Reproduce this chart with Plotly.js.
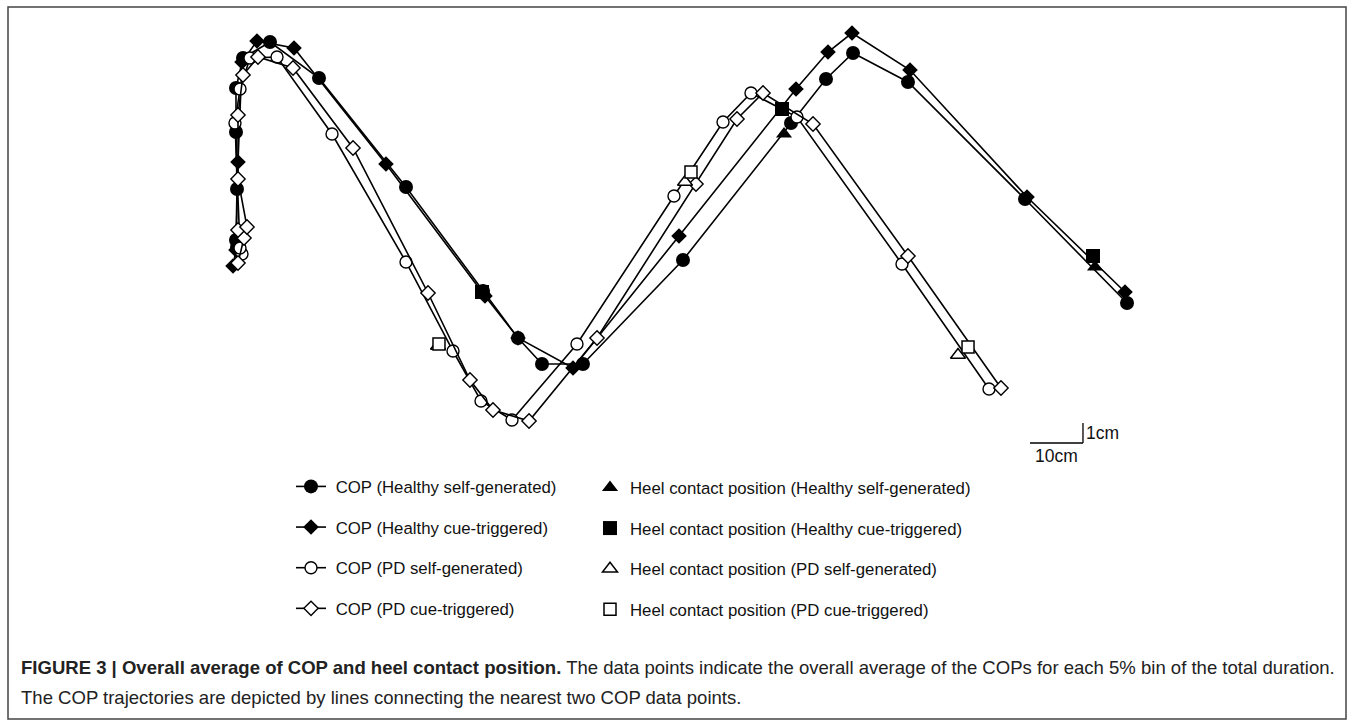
<!DOCTYPE html>
<html>
<head>
<meta charset="utf-8">
<script src="https://cdn.plot.ly/plotly-3.0.1.min.js"></script>
<style>
  html, body { margin: 0; padding: 0; background: #ffffff; }
  #chart { width: 1354px; height: 726px; }
</style>
</head>
<body>
<div id="chart"></div>
<script>
// COP trajectories (x: cm along walkway, y: cm lateral), one point per 5% bin
var hsX = [1.32, 1.13, 1.32, 1.13, 1.13, 2.45, 7.55, 16.79, 33.21, 47.74, 54.34, 58.87, 66.60, 85.47, 105.85, 112.45, 117.55, 127.92, 150.00, 169.25];
var hsY = [1.15, 1.50, 4.05, 6.90, 9.10, 10.60, 11.40, 9.60, 4.15, -1.05, -3.40, -4.70, -4.70, 0.50, 7.35, 9.55, 10.85, 9.40, 3.55, -1.65];

var hcX = [0.57, 1.13, 1.51, 2.26, 5.09, 12.08, 29.43, 48.11, 54.34, 64.72, 84.72, 106.79, 112.83, 117.36, 128.30, 150.38, 168.87];
var hcY = [0.20, 1.00, 5.40, 10.40, 11.45, 11.10, 5.30, -1.30, -3.40, -4.90, 1.70, 9.05, 10.90, 11.85, 10.00, 3.65, -1.10];

var psX = [2.26, 1.89, 0.94, 1.89, 3.77, 8.87, 19.25, 33.21, 42.08, 47.36, 53.21, 65.47, 83.77, 93.02, 98.30, 106.98, 126.79, 143.21];
var psY = [0.80, 1.10, 7.35, 9.05, 10.60, 10.65, 6.80, 0.40, -4.05, -6.55, -7.50, -3.70, 3.70, 7.40, 8.85, 7.65, 0.30, -5.95];

var pcX = [1.51, 2.64, 1.51, 3.21, 1.51, 1.51, 2.45, 5.28, 11.89, 23.21, 37.36, 45.28, 49.62, 56.42, 69.25, 87.92, 95.66, 100.57, 110.00, 127.92, 145.47];
var pcY = [0.35, 1.60, 2.00, 2.15, 4.55, 7.75, 9.75, 10.65, 10.10, 6.10, -1.15, -5.50, -7.00, -7.55, -3.40, 4.30, 7.55, 8.85, 7.30, 0.70, -5.90];

// Heel contact positions
var heelHsX = [47.74, 104.53, 163.21];
var heelHsY = [-1.05, 6.80, 0.15];
var heelHcX = [47.55, 104.15, 162.83];
var heelHcY = [-1.10, 8.05, 0.70];
var heelPsX = [39.25, 85.85, 137.36];
var heelPsY = [-3.80, 4.40, -4.25];
var heelPcX = [39.43, 86.98, 139.25];
var heelPcY = [-3.70, 4.90, -3.85];

// Scale bar (cm)
var scaleX0 = 150.94, scaleY0 = -8.65, scaleLenX = 10, scaleLenY = 1;

var copNames = ["COP (Healthy self-generated)", "COP (Healthy cue-triggered)", "COP (PD self-generated)", "COP (PD cue-triggered)"];
var heelNames = ["Heel contact position (Healthy self-generated)", "Heel contact position (Healthy cue-triggered)", "Heel contact position (PD self-generated)", "Heel contact position (PD cue-triggered)"];

var ink = "#000000";
var font = "Liberation Sans, Arial, sans-serif";
var pad = "\u00a0";

function cop(x, y, name, sym, size, filled, grp) {
  return {
    type: "scatter", mode: "lines+markers", x: x, y: y, name: pad + name,
    legend: "legend", legendgroup: grp,
    line: {color: ink, width: 1.6},
    marker: {symbol: sym, size: size, color: filled ? ink : "#ffffff", line: {color: ink, width: filled ? 0 : 1.4}},
    hoverinfo: "skip"
  };
}
function heel(x, y, name, sym, size, filled, grp) {
  return {
    type: "scatter", mode: "markers", x: x, y: y, name: name,
    legend: "legend2", legendgroup: grp,
    marker: {symbol: sym, size: size, color: filled ? ink : "#ffffff", line: {color: ink, width: filled ? 0 : 1.5}},
    hoverinfo: "skip"
  };
}

var traces = [
  cop(hsX, hsY, copNames[0], "circle", 14, true, "a"),
  cop(hcX, hcY, copNames[1], "diamond", 12, true, "b"),
  cop(psX, psY, copNames[2], "circle", 12, false, "c"),
  cop(pcX, pcY, copNames[3], "diamond", 11, false, "d"),
  heel(heelHsX, heelHsY, heelNames[0], "triangle-up", 14, true, "e"),
  heel(heelHcX, heelHcY, heelNames[1], "square", 14, true, "f"),
  heel(heelPsX, heelPsY, heelNames[2], "triangle-up", 13, false, "g"),
  heel(heelPcX, heelPcY, heelNames[3], "square", 12, false, "h")
];

var legendFont = {family: font, size: 16.8, color: "#111111"};

var layout = {
  width: 1354, height: 726, autosize: false,
  margin: {l: 0, r: 0, t: 0, b: 0},
  paper_bgcolor: "#ffffff", plot_bgcolor: "#ffffff",
  font: {family: font, color: "#111111", size: 14},
  showlegend: true,
  xaxis: {range: [-43.396, 212.075], visible: false, fixedrange: true},
  yaxis: {range: [-22.8, 13.5], visible: false, fixedrange: true},
  legend: {
    x: 291 / 1354, y: 1 - 469 / 726, xanchor: "left", yanchor: "top",
    bgcolor: "rgba(0,0,0,0)", borderwidth: 0, tracegroupgap: 15.8,
    font: legendFont, itemclick: false, itemdoubleclick: false
  },
  legend2: {
    x: 590 / 1354, y: 1 - 470 / 726, xanchor: "left", yanchor: "top",
    bgcolor: "rgba(0,0,0,0)", borderwidth: 0, tracegroupgap: 15.8,
    font: legendFont, itemclick: false, itemdoubleclick: false
  },
  shapes: [
    {type: "rect", xref: "paper", yref: "paper", x0: 8 / 1354, x1: 1346 / 1354, y0: 1 - 719 / 726, y1: 1 - 7 / 726,
     line: {color: "#444444", width: 1.5}, fillcolor: "rgba(0,0,0,0)"},
    {type: "line", xref: "x", yref: "y", x0: scaleX0, x1: scaleX0 + scaleLenX, y0: scaleY0, y1: scaleY0,
     line: {color: ink, width: 1.3}},
    {type: "line", xref: "x", yref: "y", x0: scaleX0 + scaleLenX, x1: scaleX0 + scaleLenX, y0: scaleY0, y1: scaleY0 + scaleLenY,
     line: {color: ink, width: 1.3}}
  ],
  annotations: [
    {xref: "x", yref: "y", x: scaleX0 + scaleLenX, y: scaleY0 + scaleLenY / 2, text: "1cm", showarrow: false,
     xanchor: "left", yanchor: "middle", xshift: 1, font: {family: font, size: 17.5, color: "#111111"}},
    {xref: "x", yref: "y", x: scaleX0 + scaleLenX / 2, y: scaleY0, text: "10cm", showarrow: false,
     xanchor: "center", yanchor: "top", yshift: -1, font: {family: font, size: 17.5, color: "#111111"}},
    {xref: "paper", yref: "paper", x: 19 / 1354, y: 1 - 667 / 726, xanchor: "left", yanchor: "middle", showarrow: false, align: "left",
     text: "<b>FIGURE 3 | Overall average of COP and heel contact position.</b> The data points indicate the overall average of the COPs for each 5% bin of the total duration.",
     font: {family: font, size: 18.55, color: "#222222"}},
    {xref: "paper", yref: "paper", x: 19 / 1354, y: 1 - 697 / 726, xanchor: "left", yanchor: "middle", showarrow: false, align: "left",
     text: "The COP trajectories are depicted by lines connecting the nearest two COP data points.",
     font: {family: font, size: 18.55, color: "#222222"}}
  ]
};

Plotly.newPlot("chart", traces, layout, {displayModeBar: false, staticPlot: true});
</script>
</body>
</html>
